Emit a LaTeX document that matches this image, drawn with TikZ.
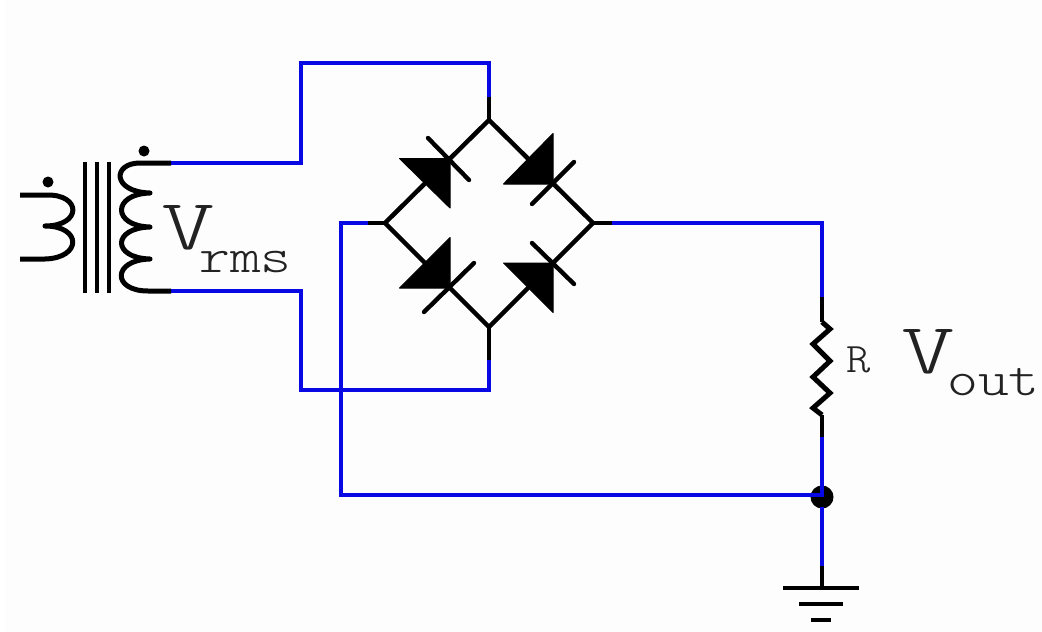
\documentclass[tikz,border=0pt]{standalone}
\usepackage{fontspec}
\definecolor{wireblue}{HTML}{0808E4}
\definecolor{paper}{HTML}{FDFDFD}
\definecolor{ink}{HTML}{222222}
\tikzset{
  wire/.style={draw=wireblue,line width=3.8pt,line join=miter},
  lead/.style={draw=black,line width=4.5pt,line join=round},
  coil/.style={draw=black,line width=5pt,line join=round},
  thin lead/.style={draw=black,line width=3.8pt},
  diode/.style={fill=black,draw=black,line width=1pt,line join=round},
  bar/.style={draw=black,line width=4.4pt,line cap=round},
  lbl/.style={inner sep=0pt,anchor=base west,text=ink},
  dotmark/.style={circle,fill=black,inner sep=0pt}
}
\begin{document}
\begin{tikzpicture}[x=1pt,y=-1pt]
\useasboundingbox (0,0) rectangle (1042,632);
\fill[white] (0,0) rectangle (1042,632);
\fill[paper] (5,0) rectangle (1042,632);
% named points
\coordinate (T) at (489,120);
\coordinate (L) at (385,223);
\coordinate (Rr) at (593,223);
\coordinate (B) at (489,327);
\coordinate (s1) at (171,163);
\coordinate (s1a) at (301,163);
\coordinate (s1b) at (301,63);
\coordinate (s1c) at (489,63);
\coordinate (s1d) at (489,97);
\coordinate (s2) at (171,291);
\coordinate (s2a) at (301,291);
\coordinate (s2b) at (301,390);
\coordinate (s2c) at (489,390);
\coordinate (s2d) at (489,360);
\coordinate (l1) at (368,223);
\coordinate (l2) at (341,223);
\coordinate (l3) at (341,495);
\coordinate (r1) at (612,223);
\coordinate (r2) at (822,223);
\coordinate (r3) at (822,297);
\coordinate (r4) at (822,322);
\coordinate (r5) at (822,415);
\coordinate (r6) at (822,437);
\coordinate (J) at (822,497);
\coordinate (Jw) at (822,495);
\coordinate (Jb) at (822,507);
\coordinate (g1) at (822,566);
\coordinate (g2) at (822,588);
% diamond
\draw[lead] (T) -- (Rr) -- (B) -- (L) -- cycle;
\draw[thin lead] (T) -- (s1d);
\draw[thin lead] (B) -- (s2d);
\draw[thin lead] (L) -- (l1);
\draw[thin lead] (Rr) -- (r1);
% diodes
\draw[diode] (399.5,158.5) -- (450,158.5) -- (450,208) -- cycle;
\draw[bar] (428,138) -- (469,180);
\draw[diode] (553,133.5) -- (553,184) -- (503.5,184) -- cycle;
\draw[bar] (574,162) -- (532,204);
\draw[diode] (450,237.5) -- (450,288) -- (399.5,288) -- cycle;
\draw[bar] (474,263) -- (424,312);
\draw[diode] (503.5,263) -- (553,263) -- (553,312.5) -- cycle;
\draw[bar] (532,243) -- (574,284);
% junction under the wires
\node[dotmark,minimum size=23pt] (junction) at (J) {};
% wires
\draw[wire] (s1) -- (s1a) -- (s1b) -- (s1c) -- (s1d);
\draw[wire] (s2) -- (s2a) -- (s2b) -- (s2c) -- (s2d);
\draw[wire] (l1) -- (l2) -- (l3) -- (Jw) -- (r6);
\draw[thin lead] (r3) -- (r4);
\draw[thin lead] (r5) -- (r6);
\draw[thin lead] (g1) -- (g2);
\draw[wire] (r1) -- (r2) -- (r3);
\draw[wire] (Jb) -- (g1);
% resistor
\draw[coil,line join=miter] (r4) -- (830,329) -- (813,344) -- (830,361) -- (813,377) -- (830,393) -- (813,408) -- (r5);
% ground
\draw[thin lead] (783,588) -- (859,588);
\draw[thin lead] (799,604) -- (843,604);
\draw[thin lead] (811,620) -- (831,620);
% transformer core
\draw[thin lead] (85,162) -- (85,293);
\draw[thin lead] (97,162) -- (97,293);
\draw[thin lead] (109,162) -- (109,293);
% secondary coil
\coordinate (s0) at (140,163);
\coordinate (c1) at (150,193);
\coordinate (c2) at (150,227);
\coordinate (c3) at (150,259);
\coordinate (s3) at (148,291);
\draw[coil] (s1) -- (s0) .. controls (112,163) and (112,192) .. (c1)
  .. controls (112,194) and (112,226) .. (c2)
  .. controls (112,228) and (112,258) .. (c3)
  .. controls (112,260) and (112,291) .. (s3) -- (s2);
% primary coil
\coordinate (p0) at (20,195);
\coordinate (p1) at (46,195);
\coordinate (p2) at (45,226);
\coordinate (p3) at (45,259);
\coordinate (p4) at (20,259);
\draw[coil] (p0) -- (p1) .. controls (82,194) and (82,226) .. (p2)
  .. controls (82,226) and (82,258) .. (p3) -- (p4);
% dots
\node[dotmark,minimum size=11pt] (dotS) at (144,151) {};
\node[dotmark,minimum size=11pt] (dotP) at (48,182) {};
% labels
\node[lbl,xscale=1.42,font=\ttfamily\fontseries{l}\fontsize{72}{72}\selectfont] (vr) at (161,249) {V};
\node[lbl,xscale=1.2,font=\ttfamily\fontseries{l}\fontsize{49}{49}\selectfont] (rms) at (199,272) {rms};
\node[lbl,xscale=1.42,font=\ttfamily\fontseries{l}\fontsize{72}{72}\selectfont] (vo) at (901,373) {V};
\node[lbl,xscale=1.2,font=\ttfamily\fontseries{l}\fontsize{49}{49}\selectfont] (out) at (947,395) {out};
\node[lbl,xscale=1.1,font=\ttfamily\fontseries{l}\fontsize{42}{42}\selectfont] (rl) at (846,372) {R};
\end{tikzpicture}
\end{document}
